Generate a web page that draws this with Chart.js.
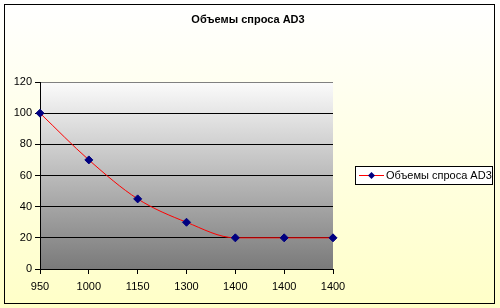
<!DOCTYPE html>
<html><head><meta charset="utf-8">
<script src="https://cdn.jsdelivr.net/npm/chart.js@4/dist/chart.umd.min.js"></script>
<style>html,body{margin:0;padding:0;background:#fff}#wrap{width:500px;height:308px;position:relative}</style>
</head><body><div id="wrap"><canvas id="c" width="500" height="308"></canvas></div>
<script>
const titleText = "Объемы спроса AD3";
const seriesLabel = "Объемы спроса AD3";
const categories = ["950", "1000", "1150", "1300", "1400", "1400", "1400"];
const values = [100, 70, 45, 30, 20, 20, 20];
const yTicks = [0, 20, 40, 60, 80, 100, 120];

const FONT = "'Liberation Sans', Arial, sans-serif";

const decor = {
  id: 'decor',
  beforeDraw(chart) {
    const ctx = chart.ctx, a = chart.chartArea;
    ctx.save();
    let g = ctx.createLinearGradient(0, 4, 0, 304);
    g.addColorStop(0, '#ffffff');
    g.addColorStop(1, '#ffffc8');
    ctx.fillStyle = g;
    ctx.fillRect(0, 0, 500, 308);
    ctx.strokeStyle = '#000';
    ctx.lineWidth = 1;
    ctx.strokeRect(4.5, 4.5, 490, 299);
    g = ctx.createLinearGradient(0, a.top, 0, a.bottom);
    g.addColorStop(0, '#fbfbfb');
    g.addColorStop(1, '#7a7a7a');
    ctx.fillStyle = g;
    ctx.fillRect(a.left, a.top, a.right - a.left, a.bottom - a.top);
    // title
    ctx.fillStyle = '#000';
    ctx.font = "bold 11px " + FONT;
    ctx.textAlign = 'center';
    ctx.textBaseline = 'middle';
    ctx.fillText(titleText, 248, 20);
    ctx.restore();
  },
  afterDraw(chart) {
    const ctx = chart.ctx;
    ctx.save();
    ctx.fillStyle = '#fff';
    ctx.fillRect(355, 166, 137, 18);
    ctx.strokeStyle = '#000';
    ctx.lineWidth = 1;
    ctx.strokeRect(355.5, 166.5, 137, 18);
    ctx.strokeStyle = '#ff0000';
    ctx.beginPath();
    ctx.moveTo(359, 175.5);
    ctx.lineTo(384, 175.5);
    ctx.stroke();
    ctx.fillStyle = '#000080';
    ctx.beginPath();
    ctx.moveTo(371.5, 172);
    ctx.lineTo(375, 175.5);
    ctx.lineTo(371.5, 179);
    ctx.lineTo(368, 175.5);
    ctx.closePath();
    ctx.fill();
    ctx.fillStyle = '#000';
    ctx.font = "11px " + FONT;
    ctx.textAlign = 'left';
    ctx.textBaseline = 'middle';
    ctx.fillText(seriesLabel, 386, 176);
    ctx.restore();
  }
};

new Chart(document.getElementById('c'), {
  type: 'line',
  data: {
    labels: categories,
    datasets: [{
      label: seriesLabel,
      data: values,
      borderColor: '#ff0000',
      borderWidth: 1,
      cubicInterpolationMode: 'monotone',
      pointStyle: 'rectRot',
      pointRadius: 4,
      pointBackgroundColor: '#000080',
      pointBorderColor: '#000080',
      pointBorderWidth: 1,
      clip: false
    }]
  },
  options: {
    responsive: false,
    animation: false,
    devicePixelRatio: 1,
    layout: { padding: { left: 0, right: 167, top: 82, bottom: 0 } },
    plugins: { legend: { display: false }, title: { display: false }, tooltip: { enabled: false } },
    scales: {
      x: {
        offset: false,
        grid: { drawOnChartArea: false, drawTicks: true, tickLength: 5, color: '#000' },
        border: { display: true, color: '#000' },
        ticks: { color: '#000', font: { family: FONT, size: 11 }, padding: 6, maxRotation: 0, autoSkip: false },
        afterFit(s) { s.height = 39; }
      },
      y: {
        min: 0, max: 120,
        afterBuildTicks(s) { s.ticks = yTicks.map(v => ({ value: v })); },
        grid: {
          color: c => (c.tick && c.tick.value === 120) ? '#808080' : '#000',
          tickColor: '#000',
          tickLength: 5,
          drawTicks: true
        },
        border: { display: true, color: '#000' },
        ticks: { color: '#000', font: { family: FONT, size: 11 }, padding: 3 },
        afterFit(s) { s.width = 40; }
      }
    }
  },
  plugins: [decor]
});
</script>
</body></html>
